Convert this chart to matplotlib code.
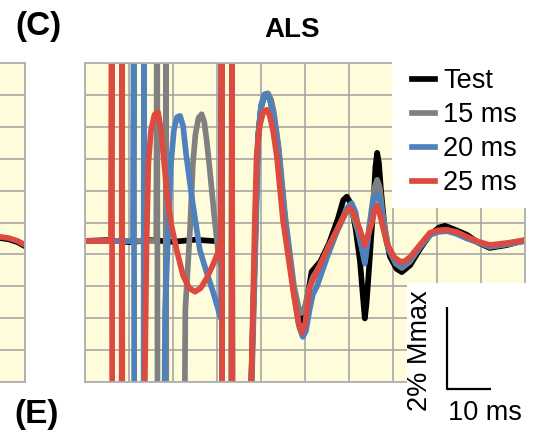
import matplotlib

matplotlib.use("Agg")
import matplotlib.pyplot as plt  # noqa: E402
from matplotlib.patches import Rectangle  # noqa: E402
import numpy as np  # noqa: E402

plt.rcParams["font.family"] = ["Liberation Sans", "DejaVu Sans"]

# time in ms, amplitude in % Mmax; +-8 marks an off-scale stimulus artefact
t_test = [0, 5, 10, 15, 20, 25, 29.0, 30.9,
          31.1, 31.2, 33.3, 33.4, 33.5, 36.8,
          37.8, 38.8, 39.3, 40.0, 40.7, 41.4, 42.1, 42.8, 43.9, 45.4, 47.3,
          48.3, 48.9, 49.6, 50.5, 51.5, 53.5, 55.5, 57.5, 58.7, 59.5, 60.5,
          61.5, 62.5, 63.2, 63.6, 64.0, 64.6, 65.5, 66.0, 66.4, 66.8, 67.3,
          68.2, 69.3, 70.8, 72.0, 73.9, 76.1, 78.4, 80.5, 81.8, 83.5, 86.8,
          89.5, 92.0, 95.9, 100]
y_test = [0, 0.02, -0.03, 0.02, -0.02, 0.03, 0.0, 0.0,
          8, -8, -8, 8, -8, -8,
          -3.44, 0.5, 2.5, 3.25, 3.52, 3.55, 3.45, 3.1, 2.3, 0.6, -1.1,
          -1.75, -1.98, -1.85, -1.4, -0.75, -0.5, -0.05, 0.55, 1.0, 1.08, 0.9,
          0.3, -0.5, -1.4, -1.89, -1.5, -0.6, 0.8, 1.8, 2.15, 1.9, 1.2,
          0.2, -0.38, -0.68, -0.76, -0.59, -0.2, 0.15, 0.33, 0.37, 0.3, 0.15,
          -0.05, -0.17, -0.1, 0.02]

t_15 = [0, 16.2, 16.4, 16.5, 18.3, 18.4, 18.5, 22.4, 22.7, 22.8, 23.9,
        24.5, 25.1, 25.8, 26.5, 27.1, 27.6, 28.3, 29.3, 30.2, 30.9,
        31.1, 31.2, 33.3, 33.4, 33.5, 36.8,
        37.9, 38.9, 39.4, 40.1, 40.8, 41.6, 42.3, 42.9, 44.0, 45.5, 47.5,
        48.5, 49.2, 50.0, 50.8, 51.8, 53.5, 55.5, 57.8, 59.3, 60.2, 61.0,
        62.0, 63.6, 64.8, 65.8, 66.4, 67.0, 67.6, 69.0, 70.6, 72.0, 73.9,
        76.1, 78.4, 80.2, 82.0, 84.0, 86.8, 92.0, 95.9, 100]
y_15 = [0, 0, 8, -8, -8, 8, -8, -8, -3.44, -1.68, 0.34,
        1.85, 2.6, 3.0, 3.09, 2.9, 2.5, 1.8, 0.7, -0.22, -0.6,
        8, -8, -8, 8, -8, -8,
        -3.44, 0.5, 2.5, 3.3, 3.58, 3.6, 3.45, 3.15, 2.3, 0.6, -1.1,
        -1.6, -1.76, -1.6, -1.2, -0.88, -0.6, -0.1, 0.35, 0.7, 0.76, 0.6,
        0.25, -0.5, 0.5, 1.3, 1.49, 1.3, 0.7, -0.2, -0.55, -0.66, -0.5,
        -0.15, 0.15, 0.24, 0.26, 0.2, 0.08, -0.14, -0.08, 0.0]

t_20 = [0, 10.9, 11.1, 11.2, 13.3, 13.4, 13.5, 17.9, 18.1, 18.2, 19.5,
        20.2, 20.9, 21.6, 22.3, 23.0, 24.5, 26.1, 27.6, 29.1, 30.9,
        31.1, 31.2, 33.3, 33.4, 33.5, 36.8,
        37.8, 38.8, 39.3, 40.0, 40.7, 41.3, 42.0, 42.7, 43.8, 45.3, 47.5,
        48.7, 49.5, 50.2, 51.0, 51.8, 52.7, 55.0, 57.5, 59.5, 60.6, 61.5,
        62.3, 63.6, 64.6, 65.6, 66.3, 67.0, 67.5, 68.8, 70.5, 72.0, 73.9,
        76.1, 78.4, 80.3, 82.3, 84.3, 86.8, 92.0, 95.9, 100]
y_20 = [0, 0, 8, -8, -8, 8, -8, -8, -3.44, -1.7, 1.85,
        2.7, 3.02, 3.05, 2.8, 2.1, 0.9, -0.22, -0.75, -1.24, -1.9,
        8, -8, -8, 8, -8, -8,
        -3.44, 0.5, 2.5, 3.3, 3.55, 3.58, 3.45, 3.1, 2.3, 0.6, -1.3,
        -2.1, -2.34, -2.2, -1.7, -1.3, -1.11, -0.4, 0.3, 0.8, 0.92, 0.7,
        0.2, -0.55, 0.3, 1.0, 1.16, 1.0, 0.6, -0.15, -0.5, -0.61, -0.45,
        -0.15, 0.15, 0.22, 0.24, 0.18, 0.06, -0.14, -0.08, 0.0]

t_25 = [0, 5.9, 6.1, 6.2, 8.3, 8.4, 8.5, 13.2, 13.6, 14.0, 14.4, 15.0,
        15.8, 16.6, 17.3, 17.9, 18.7, 19.6, 20.9, 22.3, 23.7, 25.0, 26.3,
        27.7, 29.0, 30.2, 30.9,
        31.1, 31.2, 33.3, 33.4, 33.5, 36.8,
        37.8, 38.6, 39.0, 39.7, 40.5, 41.3, 42.0, 42.8, 43.6, 45.0, 47.3,
        48.5, 49.3, 50.0, 51.1, 51.8, 55.0, 57.6, 59.3, 60.2, 61.2, 62.5,
        63.6, 65.2, 65.8, 66.3, 66.9, 68.6, 70.3, 71.6, 72.6, 73.9, 76.1,
        78.4, 80.3, 82.3, 84.5, 86.8, 89.5, 92.0, 95.9, 100]
y_25 = [0, 0, 8, -8, -8, 8, -8, -8, -3.44, 0.0, 1.9, 2.7,
        3.08, 3.14, 2.7, 2.0, 1.1, 0.4, -0.25, -0.85, -1.15, -1.24, -1.15,
        -0.9, -0.6, -0.29, 0.1,
        8, -8, -8, 8, -8, -8,
        -3.44, 0.51, 2.06, 2.8, 3.15, 3.2, 3.05, 2.65, 2.06, 0.51, -1.2,
        -2.0, -2.24, -2.05, -1.12, -0.95, -0.22, 0.35, 0.7, 0.8, 0.65, 0.27,
        -0.1, 0.44, 0.75, 0.86, 0.7, -0.06, -0.4, -0.5, -0.5, -0.39, -0.1,
        0.2, 0.26, 0.27, 0.22, 0.1, -0.02, -0.1, -0.05, 0.02]

# tail of the neighbouring panel (left edge of the figure)
t_left = [10.0, 12.5, 14.5, 16.5, 18.2]
y_left = [0.12, 0.10, 0.07, 0.0, -0.10]

labels = ["Test", "15 ms", "20 ms", "25 ms"]
colors = ["black", "#808080", "#4f81bd", "#dc4a40"]
traces = [(t_test, y_test), (t_15, y_15), (t_20, y_20), (t_25, y_25)]

YLO, YHI = -3.44, 4.34
BG = "#fefcdb"
GRID = "#a0a0a0"
W, H = 544, 434
LW = 4.1


def px_box(x0, y0, x1, y1):
    """figure-fraction rect from pixel corners (top-left origin)"""
    return [x0 / W, 1 - y1 / H, (x1 - x0) / W, (y1 - y0) / H]


def style(ax, xlim, xticks):
    ax.set_facecolor(BG)
    ax.set_xlim(*xlim)
    ax.set_ylim(YLO, YHI)
    ax.set_xticks(xticks)
    ax.set_yticks(np.linspace(YLO, YHI, 11))
    ax.grid(True, color=GRID, lw=1.1)
    ax.set_axisbelow(True)
    ax.tick_params(length=0, labelbottom=False, labelleft=False)
    for s in ax.spines.values():
        s.set_color("#b0b0b0")
        s.set_linewidth(1.3)


fig = plt.figure(figsize=(W / 100, H / 100), dpi=100)

axl = fig.add_axes(px_box(-55, 63, 25, 382))
style(axl, (0, 80 / 4.4), [80 / 4.4])
axl.plot(t_left, [v - 0.03 for v in y_left], color="black", lw=LW)
axl.plot(t_left, y_left, color=colors[3], lw=LW)

ax = fig.add_axes(px_box(85, 63, 525, 382))
style(ax, (0, 100), np.arange(0, 101, 10))
for (t, y), c, lab in zip(traces, colors, labels):
    ax.plot(t, y, color=c, lw=LW, label=lab, solid_joinstyle="round")

# white boxes holding the legend and the scale bar
ax.add_patch(Rectangle((0.698, 0.547), 0.32, 0.47, transform=ax.transAxes,
                       facecolor="white", edgecolor="none", zorder=4, clip_on=False))
ax.add_patch(Rectangle((0.732, -0.02), 0.29, 0.329, transform=ax.transAxes,
                       facecolor="white", edgecolor="none", zorder=4, clip_on=False))

ax.legend(loc="upper left", bbox_to_anchor=(412 / W, 1 - 68 / H),
          bbox_transform=fig.transFigure, frameon=False, fontsize=19.5,
          handlelength=0.85, handletextpad=0.3, labelspacing=0.3,
          borderpad=0, borderaxespad=0)

# scale bar: 10 ms x 2 % Mmax
ax.plot([82.3, 82.3, 92.3], [-1.61, -3.61, -3.61], color="black", lw=1.6,
        clip_on=False, zorder=6, solid_capstyle="butt")
fig.text(420 / W, 1 - 351 / H, "2% Mmax", rotation=90, fontsize=19.5,
         ha="center", va="center")
fig.text(485 / W, 1 - 413 / H, "10 ms", fontsize=19.5, ha="center", va="center")

fig.text(292 / W, 1 - 30 / H, "ALS", fontsize=20, fontweight="bold",
         ha="center", va="center")
fig.text(38 / W, 1 - 26 / H, "(C)", fontsize=24, fontweight="bold",
         ha="center", va="center")
fig.text(37 / W, 1 - 414 / H, "(E)", fontsize=24, fontweight="bold",
         ha="center", va="center")

fig.savefig("out.png", dpi=100, facecolor="white")
